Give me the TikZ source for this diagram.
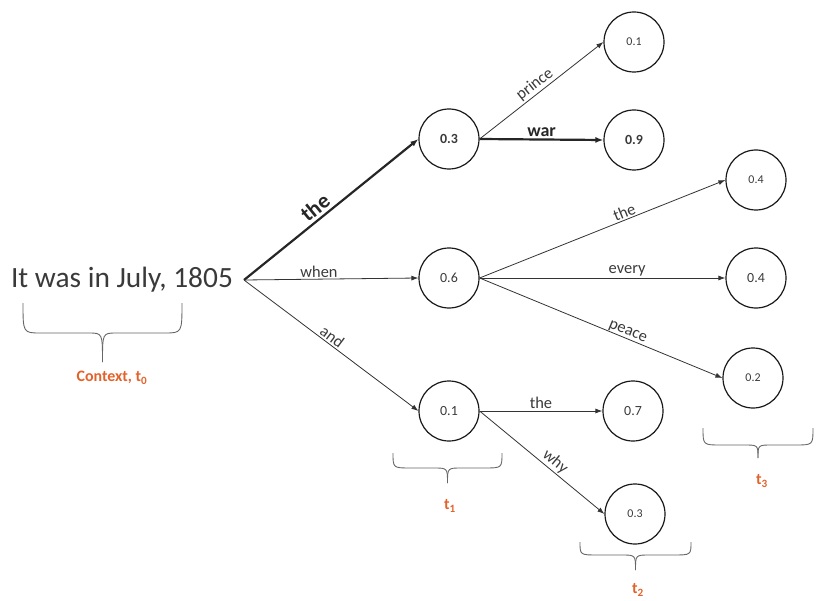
\documentclass[tikz,border=0pt]{standalone}
\usepackage{fontspec}
\setmainfont{Carlito}
\usetikzlibrary{arrows.meta}
\definecolor{txt}{HTML}{3A3A3A}
\definecolor{orng}{HTML}{E2622B}
\definecolor{edg}{HTML}{333333}
\newcommand{\drawbrace}[5]{%
  \pgfmathsetmacro\bxm{(#1+#2)/2}%
  \draw[bracestyle] (#1,#3) .. controls (#1,#4) .. ({#1+18},#4) -- ({\bxm-14},#4) .. controls (\bxm,#4) .. (\bxm,#5);
  \draw[bracestyle] (#2,#3) .. controls (#2,#4) .. ({#2-18},#4) -- ({\bxm+14},#4) .. controls (\bxm,#4) .. (\bxm,#5);
}
\begin{document}
\begin{tikzpicture}[x=1bp,y=-1bp,
  state/.style={circle,draw=black!90,line width=1.2bp,minimum size=60bp,inner sep=0pt,text=txt,font=\fontsize{14}{16}\selectfont},
  smallstate/.style={state,font=\fontsize{12}{14}\selectfont},
  edge/.style={draw=edg,line width=0.8bp,-{Latex[length=7bp,width=5bp]}},
  boldedge/.style={draw=black!85,line width=2.2bp,-{Latex[length=8bp,width=6bp]}},
  lbl/.style={sloped,above,inner sep=1.5bp,text=txt,font=\fontsize{16.5}{18}\selectfont},
  blbl/.style={lbl,text=black!85,font=\fontsize{18}{20}\selectfont\bfseries},
  bracestyle/.style={draw=black!60,line width=0.9bp},
  tlabel/.style={text=orng,font=\fontsize{16}{18}\selectfont\bfseries}
]
\useasboundingbox (0,0) rectangle (825,601);

\node[text=txt,font=\fontsize{29.5}{32}\selectfont] (ctx) at (122,280) {It was in July, 1805};
\coordinate (src) at (244,280);

\node[state,font=\fontsize{14}{16}\selectfont\bfseries] (a) at (449,139) {0.3};
\node[state] (b) at (449,278) {0.6};
\node[state] (c) at (449,411) {0.1};

\node[smallstate] (a1) at (634,42) {0.1};
\node[state,font=\fontsize{14}{16}\selectfont\bfseries] (a2) at (634,140) {0.9};
\node[smallstate] (b1) at (756,180) {0.4};
\node[state] (b2) at (756,278) {0.4};
\node[smallstate] (b3) at (753,378) {0.2};
\node[state] (c1) at (633,411) {0.7};
\node[smallstate] (c2) at (635,514) {0.3};

\draw[boldedge] (src) -- node[blbl,pos=0.45,inner sep=3bp,font=\fontsize{22}{24}\selectfont\bfseries]{the} (a.west);
\draw[edge] (src) -- node[lbl,pos=0.43]{when} (b.west);
\draw[edge] (src) -- node[lbl,pos=0.48]{and} (c.west);

\draw[edge] (a.east) -- node[lbl,pos=0.49]{prince} (a1.west);
\draw[boldedge] (a.east) -- node[blbl,pos=0.5]{war} (a2.west);

\draw[edge] (b.east) -- node[lbl,pos=0.6]{the} (b1.west);
\draw[edge] (b.east) -- node[lbl,pos=0.6]{every} (b2.west);
\draw[edge] (b.east) -- node[lbl,pos=0.6,inner sep=0.5bp]{peace} (b3.west);

\draw[edge] (c.east) -- node[lbl,pos=0.5]{the} (c1.west);
\draw[edge] (c.east) -- node[lbl,pos=0.56]{why} (c2.west);

\drawbrace{23}{182}{303}{333}{362}
\drawbrace{393}{502}{453}{468}{483}
\drawbrace{580}{691}{542}{555}{570}
\drawbrace{703}{813}{428}{445}{458}

\node[tlabel] (l0) at (112,378) {Context, t\textsubscript{0}};
\node[tlabel] (l1) at (450,506) {t\textsubscript{1}};
\node[tlabel] (l2) at (638,590) {t\textsubscript{2}};
\node[tlabel] (l3) at (762,481) {t\textsubscript{3}};
\end{tikzpicture}
\end{document}
